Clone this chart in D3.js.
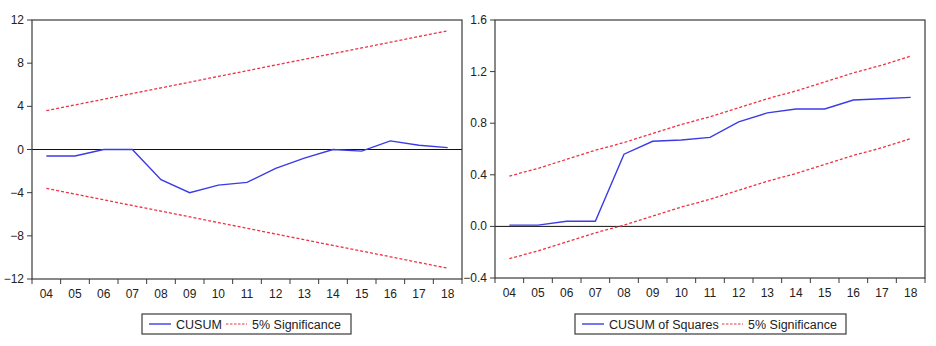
<!DOCTYPE html>
<html>
<head>
<meta charset="utf-8">
<script src="https://cdn.jsdelivr.net/npm/d3@7"></script>
<style>
  body { margin: 0; background: #fff; }
  svg { display: block; font-family: "Liberation Sans", Arial, sans-serif; }
</style>
</head>
<body>
<svg id="chart" width="936" height="346"></svg>
<script>
// years shown on the x axis
const years = ['04', '05', '06', '07', '08', '09', '10', '11', '12', '13', '14', '15', '16', '17', '18'];

// left panel: CUSUM
const cusum = [-0.6, -0.6, 0.0, 0.0, -2.8, -4.0, -3.3, -3.05, -1.75, -0.8, 0.0, -0.15, 0.8, 0.4, 0.17];
const cusumUpper = [3.6, 4.13, 4.66, 5.19, 5.71, 6.24, 6.77, 7.3, 7.83, 8.36, 8.89, 9.41, 9.94, 10.47, 11.0];
const cusumLower = [-3.6, -4.13, -4.66, -5.19, -5.71, -6.24, -6.77, -7.3, -7.83, -8.36, -8.89, -9.41, -9.94, -10.47, -11.0];
const cusumTicks = [-12, -8, -4, 0, 4, 8, 12];

// right panel: CUSUM of squares
const cusumSq = [0.01, 0.01, 0.04, 0.04, 0.56, 0.66, 0.67, 0.69, 0.81, 0.88, 0.91, 0.91, 0.98, 0.99, 1.0];
const cusumSqUpper = [0.39, 0.45, 0.52, 0.59, 0.65, 0.72, 0.79, 0.85, 0.92, 0.99, 1.05, 1.12, 1.19, 1.25, 1.32];
const cusumSqLower = [-0.25, -0.19, -0.12, -0.05, 0.01, 0.08, 0.15, 0.21, 0.28, 0.35, 0.41, 0.48, 0.55, 0.61, 0.68];
const cusumSqTicks = [-0.4, 0.0, 0.4, 0.8, 1.2, 1.6];

const svg = d3.select('#chart');
const blue = '#3b3be6';
const red = '#ee3344';
const frameColor = '#3a3a3a';

function drawPanel(opts) {
    const g = svg.append('g');
    const x = d3.scaleBand().domain(years).range([opts.x0, opts.x1]).padding(0);
    const y = d3.scaleLinear().domain(opts.domain).range([opts.y1, opts.y0]);
    const cx = d => x(d) + x.bandwidth() / 2;

    // zero line
    g.append('line')
        .attr('x1', opts.x0).attr('x2', opts.x1)
        .attr('y1', y(0)).attr('y2', y(0))
        .attr('stroke', '#111').attr('stroke-width', 1);

    const line = d3.line().x((d, i) => cx(years[i])).y(d => y(d));

    // significance bands
    [opts.upper, opts.lower].forEach(vals => {
        g.append('path')
            .datum(vals)
            .attr('d', line)
            .attr('fill', 'none')
            .attr('stroke', red)
            .attr('stroke-width', 1.3)
            .attr('stroke-dasharray', '3,2');
    });

    g.append('path')
        .datum(opts.values)
        .attr('d', line)
        .attr('fill', 'none')
        .attr('stroke', blue)
        .attr('stroke-width', 1.4);

    // frame
    g.append('rect')
        .attr('x', opts.x0).attr('y', opts.y0)
        .attr('width', opts.x1 - opts.x0).attr('height', opts.y1 - opts.y0)
        .attr('fill', 'none').attr('stroke', frameColor).attr('stroke-width', 1.2);

    // y ticks + labels
    opts.ticks.forEach(t => {
        g.append('line')
            .attr('x1', opts.x0 - 5).attr('x2', opts.x0)
            .attr('y1', y(t)).attr('y2', y(t))
            .attr('stroke', frameColor);
        g.append('text')
            .attr('x', opts.x0 - 8).attr('y', y(t) + 4)
            .attr('text-anchor', 'end')
            .attr('font-size', 12).attr('fill', '#222')
            .text(opts.fmt(t));
    });

    // x ticks at band edges, labels at centres
    const edges = years.map(d => x(d)).concat([opts.x1]);
    edges.forEach(e => {
        g.append('line')
            .attr('x1', e).attr('x2', e)
            .attr('y1', opts.y1).attr('y2', opts.y1 + 5)
            .attr('stroke', frameColor);
    });
    years.forEach(d => {
        g.append('text')
            .attr('x', cx(d)).attr('y', opts.y1 + 19)
            .attr('text-anchor', 'middle')
            .attr('font-size', 12).attr('fill', '#222')
            .text(d);
    });

    // legend
    const lg = opts.legend;
    g.append('rect')
        .attr('x', lg.x).attr('y', 314).attr('width', lg.w).attr('height', 20)
        .attr('fill', '#fff').attr('stroke', frameColor).attr('stroke-width', 1.2);
    g.append('line')
        .attr('x1', lg.x + 7).attr('x2', lg.x + 29).attr('y1', 324).attr('y2', 324)
        .attr('stroke', blue).attr('stroke-width', 1.4);
    g.append('text')
        .attr('x', lg.x + 34).attr('y', 328.5)
        .attr('font-size', 12.5).attr('fill', '#222')
        .text(lg.label);
    g.append('line')
        .attr('x1', lg.redX).attr('x2', lg.redX + 21).attr('y1', 324).attr('y2', 324)
        .attr('stroke', red).attr('stroke-width', 1.2).attr('stroke-dasharray', '2.5,1.5');
    g.append('text')
        .attr('x', lg.redX + 26).attr('y', 328.5)
        .attr('font-size', 12.5).attr('fill', '#222')
        .text('5% Significance');
}

drawPanel({
    x0: 32, x1: 462, y0: 20, y1: 279,
    domain: [-12, 12], ticks: cusumTicks, fmt: d3.format('d'),
    values: cusum, upper: cusumUpper, lower: cusumLower,
    legend: { x: 142, w: 209, label: 'CUSUM', redX: 226 }
});

drawPanel({
    x0: 495, x1: 925, y0: 20, y1: 278,
    domain: [-0.4, 1.6], ticks: cusumSqTicks, fmt: d3.format('.1f'),
    values: cusumSq, upper: cusumSqUpper, lower: cusumSqLower,
    legend: { x: 575, w: 271, label: 'CUSUM of Squares', redX: 722 }
});
</script>
</body>
</html>
